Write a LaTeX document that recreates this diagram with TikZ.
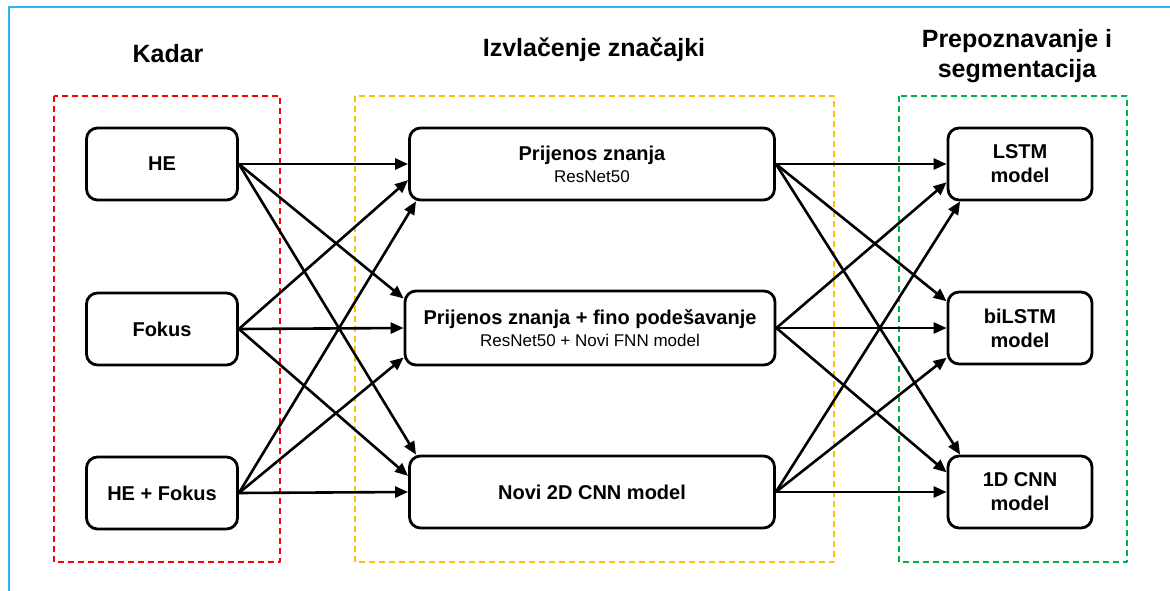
\documentclass[tikz,border=0pt]{standalone}
\usepackage{fontspec}
\setmainfont{Liberation Sans}
\usetikzlibrary{arrows.meta}
\definecolor{frameblue}{RGB}{41,182,240}
\definecolor{grpred}{RGB}{255,0,0}
\definecolor{grpyellow}{RGB}{255,192,0}
\definecolor{grpgreen}{RGB}{0,176,80}
\newcommand\subtxt[1]{{\fontsize{17}{20}\selectfont\mdseries #1}}
\tikzset{
  blk/.style={draw,line width=2.8pt,rounded corners=11pt,minimum height=72pt,inner sep=0pt,
    align=center,font=\fontsize{20}{24}\selectfont\bfseries},
  ttl/.style={align=center,font=\fontsize{25}{30}\selectfont\bfseries},
  grp/.style={line width=1.7pt,dash pattern=on 6pt off 4pt},
  arr/.style={line width=2.6pt,-{Triangle[length=13pt,width=11pt]}}
}
\begin{document}
\begin{tikzpicture}[x=1pt,y=-1pt,line join=round]
  \useasboundingbox (0,0) rectangle (1170,591);
  \draw[frameblue,line width=1.4pt] (9,591) -- (9,7) -- (1170,7);
  \draw[grp,grpred] (54,96) rectangle (280,562);
  \draw[grp,grpyellow] (355,96) rectangle (834,562);
  \draw[grp,grpgreen] (899,96) rectangle (1127,562);
  \node[ttl] (tkadar) at (168,54) {Kadar};
  \node[ttl] (tizvl) at (594,50) {Izvlačenje značajki};
  \node[ttl] (tprep) at (1017,56) {Prepoznavanje i\\segmentacija};
  \node[blk,minimum width=151pt] (he) at (162,164) {HE};
  \node[blk,minimum width=151pt] (fok) at (162,329) {Fokus};
  \node[blk,minimum width=151pt] (hef) at (162,493) {HE + Fokus};
  \node[blk,minimum width=365pt] (pz) at (592,164) {Prijenos znanja\\[-2pt]\subtxt{ResNet50}};
  \node[blk,minimum width=370pt,minimum height=74pt] (pzf) at (590,328)
    {Prijenos znanja + fino podešavanje\\[-2pt]\subtxt{ResNet50 + Novi FNN model}};
  \node[blk,minimum width=365pt] (cnn2) at (592,492) {Novi 2D CNN model};
  \node[blk,minimum width=144pt] (lstm) at (1020,164) {LSTM\\model};
  \node[blk,minimum width=144pt] (bilstm) at (1020,328) {biLSTM\\model};
  \node[blk,minimum width=144pt] (cnn1) at (1020,492) {1D CNN\\model};
  \foreach \s/\t in {he/pz.west, he/pzf.171, he/cnn2.168,
                     fok/pz.185, fok/pzf.west, fok/cnn2.175,
                     hef/pz.192, hef/pzf.189, hef/cnn2.west,
                     pz/lstm.west, pz/bilstm.160, pz/cnn1.148,
                     pzf/lstm.194, pzf/bilstm.west, pzf/cnn1.165,
                     cnn2/lstm.212, cnn2/bilstm.202, cnn2/cnn1.west}
    \draw[arr] (\s.east) -- (\t);
\end{tikzpicture}
\end{document}
